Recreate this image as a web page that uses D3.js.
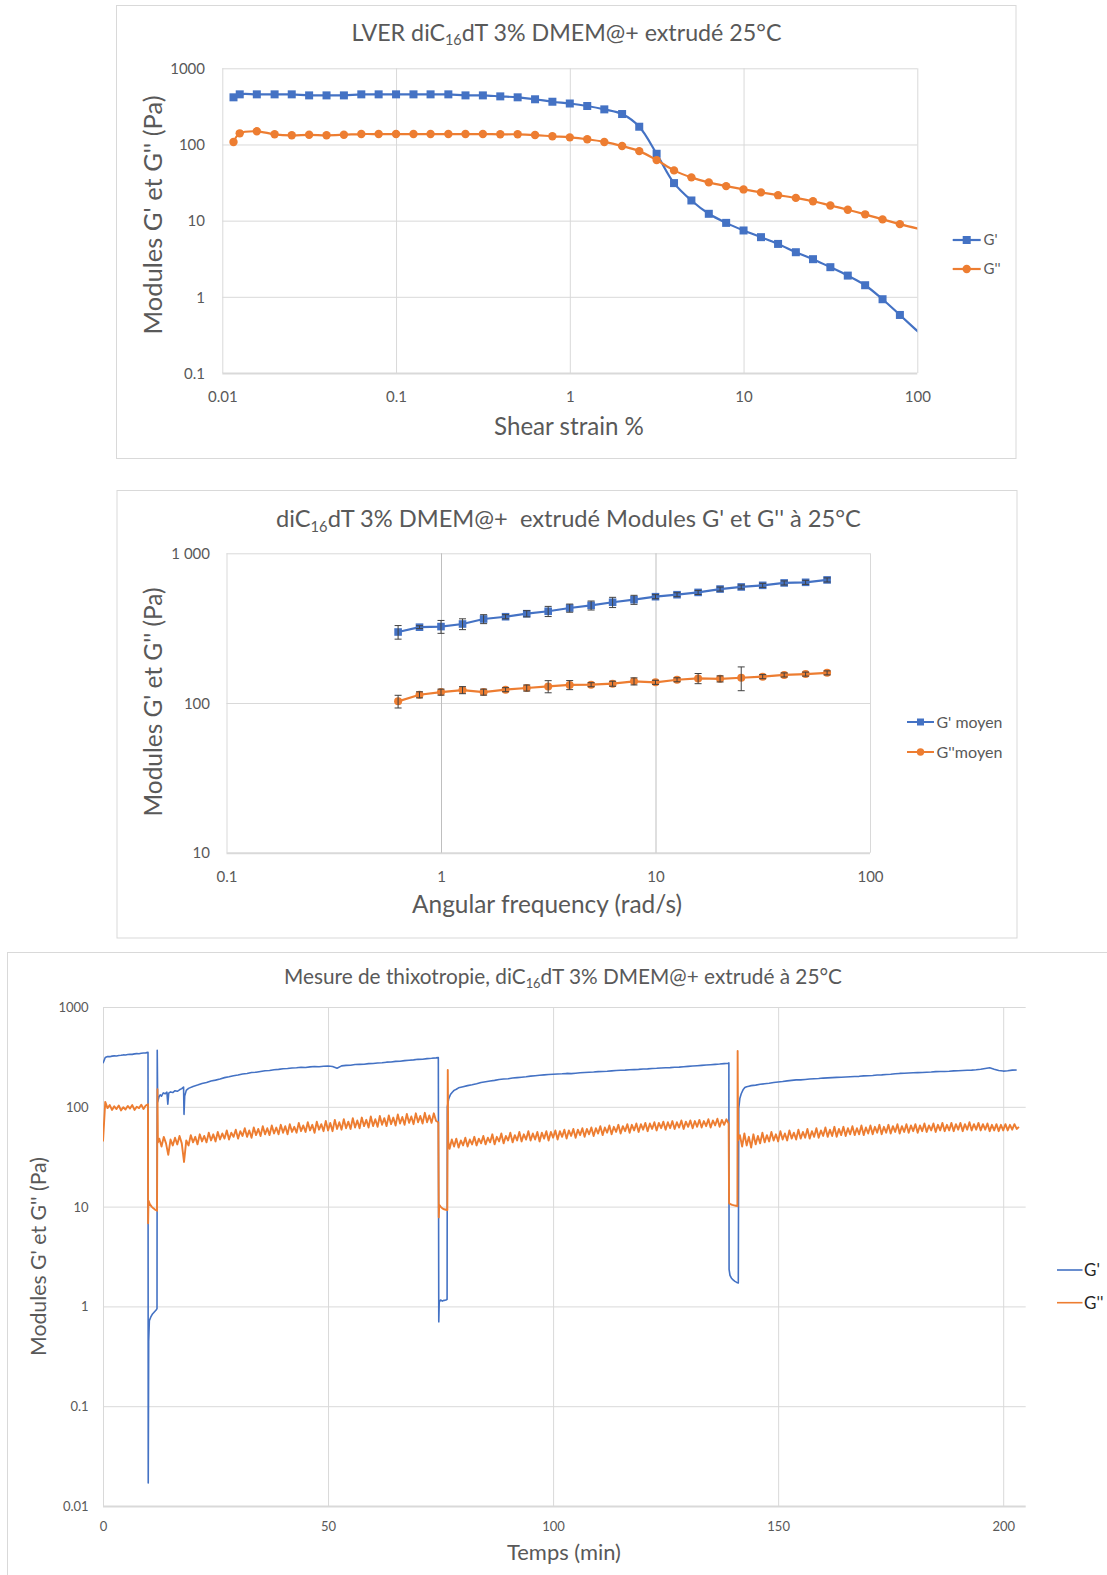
<!DOCTYPE html>
<html><head><meta charset="utf-8">
<script src="https://cdn.jsdelivr.net/npm/d3@7"></script>
<style>
body{margin:0;background:#fff;}
svg{display:block;}
</style></head><body>
<svg id="c" width="1107" height="1575"></svg>
<script>
// ================= DATA =================
// Panel 1 : LVER amplitude sweep
const lverStrain = [0.0116,0.0126,0.0158,0.02,0.0251,0.0316,0.0398,0.0501,0.0631,0.0794,
  0.1,0.126,0.158,0.2,0.251,0.316,0.398,0.501,0.631,0.794,
  1,1.26,1.58,2,2.51,3.16,3.98,5.01,6.31,7.94,
  10,12.6,15.8,20,25.1,31.6,39.8,50.1,63.1,79.4,126];
const lverGp = [416,455,455,455,455,441,441,441,455,455,
  455,455,455,455,441,441,428,416,392,364,
  345,320,289,251,171,75.5,31.1,18.4,12.3,9.35,
  7.43,6.07,4.95,3.85,3.12,2.45,1.9,1.42,0.93,0.578,0.219];
const lverGpp = [108,140,149,136,132,134,132,134,137,137,
  137,137,137,137,137,137,136,136,133,128,
  124,117,108,95.3,81.8,62.4,45.7,37,31.8,28.4,
  25.7,23.5,21.6,19.9,18.0,15.8,13.9,12.1,10.4,9.0,6.93];
const lverXTicks = [0.01,0.1,1,10,100];
const lverXLabels = ['0.01','0.1','1','10','100'];
const lverYTicks = [0.1,1,10,100,1000];
const lverYLabels = ['0.1','1','10','100','1000'];

// Panel 2 : frequency sweep (mean ± sd)
const freq = [0.631,0.794,1,1.26,1.58,2,2.51,3.16,3.98,5.01,6.31,7.94,10,12.6,15.8,20,25.1,31.6,39.8,50.1,63.1];
const gpMoy = [298,321,324,337,364,377,395,410,431,449,471,490,513,529,548,577,596,611,634,640,664];
const gpErr = [31,7,32,28,25,12,19,32,27,31,37,34,16,16,17,18,18,19,20,20,21];
const gppMoy = [102.6,113.5,118.3,122,118.3,122.8,126,129,132,132.5,134.6,139.6,137.5,143,146,145,147.5,150,154,156,159];
const gppErr = [10,5.3,5.5,6.6,5.5,3.8,5.9,12,9.2,4.1,5.2,7.6,4.3,4.4,11.4,6.8,26.7,4.7,4.8,4.8,4.9];
const freqXTicks = [0.1,1,10,100];
const freqXLabels = ['0.1','1','10','100'];
const freqYTicks = [10,100,1000];
const freqYLabels = ['10','100','1 000'];

// Panel 3 : thixotropy (time in min, moduli in Pa)
const gpRest1Start = 0, gpRest1Step = 0.5;
const gpRest1 = [273,312,319,318,322,324,323,327,328,331,330,334,336,335,339,341,340,344,346,347,351];
const gpShear1 = [[10.05,0.017],[10.15,0.45],[10.3,0.72],[10.6,0.78],[11.0,0.84],[11.4,0.88],[11.8,0.92],[12.0,0.95],
  [12.05,368],[12.15,112],[12.4,124],[12.7,132],[13.0,128],[13.4,138],[13.8,135],[14.2,140],[14.4,106],[14.6,137],
  [15.0,141],[15.5,139],[16.0,145],[16.5,143],[17.0,148],[17.5,152],[17.9,158],[18.0,84],[18.15,128],[18.5,146],[18.8,150]];
const gpRest2Start = 19, gpRest2Step = 1;
const gpRest2 = [153,160,165,171,175,181,185,190,196,200, 205,208,213,216,221,222,226,230,231,235,
  237,241,242,245,246,249,248,251,253,252, 255,256,253,243,257,260,261,265,266,267,
  271,272,275,276,280,281,285,286,290,293, 295,299,300,304,306,309];
const gpShear2 = [[74.5,311],[74.6,0.70],[74.7,1.1],[75.0,1.16],[75.4,1.13],[75.8,1.15],[76.2,1.16],[76.45,1.18],
  [76.5,100],[76.8,120],[77.2,133],[77.6,140],[78,146],[78.5,150],[79,155],[79.5,157],[80,159]];
const gpRest3Start = 81, gpRest3Step = 1;
const gpRest3 = [163,166,170,175,178,181,184,188,190,191, 194,196,198,200,203,205,207,209,211,212,
  213,214,216,215,217,219,221,222,223,225, 226,227,229,231,232,233,235,236,237,239,
  240,242,243,245,246,247,249,250,252,254, 256,258,260,262,264,266,268,271];
const gpShear3 = [[138.9,273],[139.05,275],[139.1,2.35],[139.3,2.05],[139.6,1.93],[140.0,1.84],[140.4,1.78],[140.8,1.74],
  [141.15,1.72],[141.25,97],[141.5,122],[141.8,135],[142.2,148],[142.6,156],[143,159],[143.5,161],[144,163]];
const gpRest4Start = 145, gpRest4Step = 1;
const gpRest4 = [165,168,170,172,175,177,179,182,184,186, 186,188,190,191,192,194,195,196,197,198,
  199,200,201,202,204,205,206,208,209,211, 212,214,216,217,218,219,220,221,222,223,
  225,226,226,227,229,230,231,232,233,235, 238,242,246,238,231,228,230,233,234];

const gppRest1Start = 0, gppRest1Step = 0.5;
const gppRest1 = [45,112,97,104,93,101,95,103,92,99,94,102,96,104,93,100,97,105,95,103,106];
const gppShear1 = [[10.02,6.8],[10.1,11.5],[10.4,10.6],[10.8,10.0],[11.2,9.6],[11.6,9.3],[12.0,9.1],[12.1,150],[12.2,44]];
const gppRest2Start = 12.5, gppRest2Step = 0.5;
const gppRest2 = [48,40,50,43,33,47,41,49,42,51, 43,28,46,41,52,44,50,42,53,45,
  51,44,55,46,53,45,56,47,54,48, 58,47,55,50,59,48,57,51,61,50,
  58,49,62,52,60,51,64,53,61,52, 65,54,62,53,66,55,64,53,67,56,
  63,55,69,57,65,56,70,58,66,55, 71,59,67,57,72,58,69,57,74,60,
  70,59,75,61,71,60,77,62,73,61, 78,64,74,62,80,64,75,63,81,66,
  77,64,82,67,78,65,84,68,79,66, 85,69,80,67,86,70,81,68,87,70,
  82,69,86,72,70];
const gppShear2 = [[74.6,7.8],[74.7,10.4],[75.0,10.0],[75.4,9.6],[75.8,9.4],[76.2,9.3],[76.5,9.2],[76.6,234],[76.7,45]];
const gppRest3Start = 77, gppRest3Step = 0.5;
const gppRest3 = [38,47,40,48,39,46,41,49,40,47, 42,50,41,48,43,51,42,49,44,53,
  42,50,45,54,43,51,46,55,44,52, 46,56,45,53,47,57,46,54,47,56,
  45,55,48,57,46,56,49,58,47,57, 50,59,48,58,51,60,49,59,52,61,
  50,60,53,62,51,61,54,64,52,62, 55,65,53,63,56,66,54,64,57,67,
  55,66,58,68,56,67,59,69,57,68, 60,70,58,69,61,71,59,70,61,72,
  60,70,62,73,60,71,63,73,61,72, 63,74,62,72,64,75,62,73,65,76,
  63,74,66,75,68];
const gppShear3 = [[139.1,10.8],[139.4,10.6],[139.8,10.4],[140.2,10.3],[140.6,10.2],[140.95,10.1],[141.0,362],[141.1,46]];
const gppRest4Start = 141.5, gppRest4Step = 0.5;
const gppRest4 = [52,40,54,41,50,39,53,42,51,43, 55,44,52,45,56,46,53,45,57,47,
  54,46,58,48,55,47,59,48,56,49, 60,48,57,50,61,49,58,51,62,50,
  59,51,63,50,60,52,63,51,61,53, 64,52,61,53,65,52,62,54,65,53,
  63,55,66,53,63,55,66,54,64,56, 67,54,64,56,67,55,65,57,67,55,
  65,57,68,56,65,58,68,56,66,58, 69,57,66,58,69,57,67,59,69,57,
  67,59,70,58,67,59,69,58,67,59, 68,57,66,58,67,57,66,58,67,58,
  66,59,67,60,63];
const thixoXTicks = [0,50,100,150,200];
const thixoXLabels = ['0','50','100','150','200'];
const thixoYTicks = [0.01,0.1,1,10,100,1000];
const thixoYLabels = ['0.01','0.1','1','10','100','1000'];

// ================= DRAWING =================
const FONT = "Lato, 'Open Sans', 'DejaVu Sans', sans-serif";
const GRID = '#d9d9d9', TXT = '#595959', BLUE = '#4472c4', ORANGE = '#ed7d31';
const svg = d3.select('#c').attr('font-family', FONT);

function frame(x, y, w, h) {
  svg.append('rect').attr('x', x).attr('y', y).attr('width', w).attr('height', h)
    .attr('fill', 'none').attr('stroke', GRID).attr('stroke-width', 1);
}
function fit(t, w) {
  const len = t.node().getComputedTextLength();
  const fs = parseFloat(t.attr('font-size'));
  t.attr('font-size', fs * w / len);
}
function rich(x, y, segs, size, w, rot, fill) {
  const t = svg.append('text').attr('text-anchor', 'middle').attr('font-size', size)
    .attr('fill', fill || TXT).style('white-space', 'pre');
  if (rot) t.attr('transform', `translate(${x},${y}) rotate(-90)`);
  else t.attr('x', x).attr('y', y);
  segs.forEach(s => {
    if (s[1]) {
      t.append('tspan').attr('font-size', '0.62em').attr('dy', '0.3em').text(s[0]);
    } else {
      const ts = t.append('tspan').text(s[0]);
      if (t.selectAll('tspan').size() > 1) ts.attr('dy', '-0.186em');
    }
  });
  if (w) fit(t, w);
  return t;
}
function grid(x, y, p, xt, xl, yt, yl, o) {
  const gy = svg.append('g').attr('transform', `translate(${p.l},0)`)
    .call(d3.axisLeft(y).tickValues(yt).tickFormat((d, i) => yl[i]).tickSize(-(p.r - p.l)).tickPadding(o.yPad));
  gy.select('.domain').remove();
  gy.selectAll('line').attr('stroke', GRID).attr('stroke-width', d => d === yt[0] ? 2 : 1);
  gy.selectAll('text').attr('fill', TXT).attr('font-size', o.fs).attr('font-family', FONT).attr('dy', '0.35em');
  const gx = svg.append('g').attr('transform', `translate(0,${p.b})`)
    .call(d3.axisBottom(x).tickValues(xt).tickFormat((d, i) => xl[i]).tickSize(-(p.b - p.t)).tickPadding(0));
  gx.select('.domain').remove();
  gx.selectAll('line').attr('stroke', d => o.vColor ? o.vColor(d) : GRID).attr('stroke-width', 1);
  gx.selectAll('text').attr('fill', TXT).attr('font-size', o.fs).attr('font-family', FONT).attr('y', o.xDy).attr('dy', '0.35em');
}
function clip(id, p) {
  svg.append('clipPath').attr('id', id).append('rect')
    .attr('x', p.l).attr('y', p.t).attr('width', p.r - p.l).attr('height', p.b - p.t);
}

// ---------- Panel 1 ----------
frame(116.5, 5.5, 899.5, 453);
const p1 = {l: 222.3, r: 917.3, t: 68.3, b: 373};
const x1 = d3.scaleLog().domain([0.01, 100]).range([p1.l, p1.r]);
const y1 = d3.scaleLog().domain([0.1, 1000]).range([p1.b, p1.t]);
grid(x1, y1, p1, lverXTicks, lverXLabels, lverYTicks, lverYLabels, {yPad: 17.3, xDy: 24, fs: 15});
clip('cp1', p1);
const l1 = d3.line().x(d => x1(d[0])).y(d => y1(d[1])).curve(d3.curveCatmullRom.alpha(0.5));
const gp1 = lverStrain.map((s, i) => [s, lverGp[i]]);
const gpp1 = lverStrain.map((s, i) => [s, lverGpp[i]]);
const c1 = svg.append('g').attr('clip-path', 'url(#cp1)');
c1.append('path').datum(gp1).attr('d', l1).attr('fill', 'none').attr('stroke', BLUE).attr('stroke-width', 2.2);
c1.selectAll('rect.m').data(gp1).enter().append('rect')
  .attr('x', d => x1(d[0]) - 4).attr('y', d => y1(d[1]) - 4).attr('width', 8).attr('height', 8).attr('fill', BLUE);
c1.append('path').datum(gpp1).attr('d', l1).attr('fill', 'none').attr('stroke', ORANGE).attr('stroke-width', 2.2);
c1.selectAll('circle.m').data(gpp1).enter().append('circle')
  .attr('cx', d => x1(d[0])).attr('cy', d => y1(d[1])).attr('r', 4.2).attr('fill', ORANGE);
rich(566.5, 40.7, [['LVER diC'], ['16', 1], ['dT 3% DMEM@+ extrudé 25°C']], 22, 430);
rich(569, 435, [['Shear strain %']], 22, 150);
rich(161.7, 215, [["Modules G' et G'' (Pa)"]], 22, 239, true);
// legend 1
[[240, BLUE, 'sq', "G'"], [269, ORANGE, 'ci', "G''"]].forEach(r => {
  svg.append('line').attr('x1', 952.7).attr('x2', 980.7).attr('y1', r[0]).attr('y2', r[0]).attr('stroke', r[1]).attr('stroke-width', 2.2);
  if (r[2] === 'sq') svg.append('rect').attr('x', 962.7).attr('y', r[0] - 4).attr('width', 8).attr('height', 8).attr('fill', r[1]);
  else svg.append('circle').attr('cx', 966.7).attr('cy', r[0]).attr('r', 4.2).attr('fill', r[1]);
  svg.append('text').attr('x', 983.5).attr('y', r[0]).attr('dy', '0.35em').attr('font-size', 15).attr('fill', TXT).text(r[3]);
});

// ---------- Panel 2 ----------
frame(117, 490.5, 900, 447.5);
const p2 = {l: 226.5, r: 870, t: 553.3, b: 852.7};
const x2 = d3.scaleLog().domain([0.1, 100]).range([p2.l, p2.r]);
const y2 = d3.scaleLog().domain([10, 1000]).range([p2.b, p2.t]);
grid(x2, y2, p2, freqXTicks, freqXLabels, freqYTicks, freqYLabels,
  {yPad: 16.5, xDy: 24, fs: 15, vColor: d => (d === 1 || d === 10) ? '#bfbfbf' : GRID});
const l2 = d3.line().x(d => x2(d[0])).y(d => y2(d[1]));
const gp2 = freq.map((f, i) => [f, gpMoy[i], gpErr[i]]);
const gpp2 = freq.map((f, i) => [f, gppMoy[i], gppErr[i]]);
function errBars(data) {
  const g = svg.append('g').attr('stroke', '#404040').attr('stroke-width', 1);
  data.forEach(d => {
    const xx = x2(d[0]), ya = y2(d[1] + d[2]), yb = y2(d[1] - d[2]);
    g.append('line').attr('x1', xx).attr('x2', xx).attr('y1', ya).attr('y2', yb);
    g.append('line').attr('x1', xx - 3.5).attr('x2', xx + 3.5).attr('y1', ya).attr('y2', ya);
    g.append('line').attr('x1', xx - 3.5).attr('x2', xx + 3.5).attr('y1', yb).attr('y2', yb);
  });
}
svg.append('path').datum(gp2).attr('d', l2).attr('fill', 'none').attr('stroke', BLUE).attr('stroke-width', 2.2);
svg.selectAll('rect.m2').data(gp2).enter().append('rect')
  .attr('x', d => x2(d[0]) - 3.8).attr('y', d => y2(d[1]) - 3.8).attr('width', 7.6).attr('height', 7.6).attr('fill', BLUE);
errBars(gp2);
svg.append('path').datum(gpp2).attr('d', l2).attr('fill', 'none').attr('stroke', ORANGE).attr('stroke-width', 2.2);
svg.selectAll('circle.m2').data(gpp2).enter().append('circle')
  .attr('cx', d => x2(d[0])).attr('cy', d => y2(d[1])).attr('r', 4).attr('fill', ORANGE);
errBars(gpp2);
rich(568.5, 527.3, [['diC'], ['16', 1], ["dT 3% DMEM@+  extrudé Modules G' et G'' à 25°C"]], 22, 585);
rich(547, 913, [['Angular frequency (rad/s)']], 22, 270);
rich(161.5, 702, [["Modules G' et G'' (Pa)"]], 22, 229, true);
[[722, BLUE, 'sq', "G' moyen"], [752, ORANGE, 'ci', "G''moyen"]].forEach(r => {
  svg.append('line').attr('x1', 907).attr('x2', 934).attr('y1', r[0]).attr('y2', r[0]).attr('stroke', r[1]).attr('stroke-width', 2);
  if (r[2] === 'sq') svg.append('rect').attr('x', 917).attr('y', r[0] - 3.5).attr('width', 7).attr('height', 7).attr('fill', r[1]);
  else svg.append('circle').attr('cx', 920.5).attr('cy', r[0]).attr('r', 3.7).attr('fill', r[1]);
  const t = svg.append('text').attr('x', 936.5).attr('y', r[0]).attr('dy', '0.35em').attr('font-size', 15).attr('fill', TXT).text(r[3]);
  fit(t, 66);
});

// ---------- Panel 3 ----------
frame(7.5, 952.5, 1110, 700);
const p3 = {l: 103, r: 1025.7, t: 1007, b: 1506};
const x3 = d3.scaleLinear().domain([0, 205]).range([p3.l, p3.r]);
const y3 = d3.scaleLog().domain([0.01, 1000]).range([p3.b, p3.t]);
grid(x3, y3, p3, thixoXTicks, thixoXLabels, thixoYTicks, thixoYLabels, {yPad: 14.4, xDy: 20.7, fs: 13});
function seq(start, step, vals) { return vals.map((v, i) => [start + i * step, v]); }
const gpSeries = [].concat(seq(gpRest1Start, gpRest1Step, gpRest1), gpShear1,
  seq(gpRest2Start, gpRest2Step, gpRest2), gpShear2,
  seq(gpRest3Start, gpRest3Step, gpRest3), gpShear3,
  seq(gpRest4Start, gpRest4Step, gpRest4));
const gppSeries = [].concat(seq(gppRest1Start, gppRest1Step, gppRest1), gppShear1,
  seq(gppRest2Start, gppRest2Step, gppRest2), gppShear2,
  seq(gppRest3Start, gppRest3Step, gppRest3), gppShear3,
  seq(gppRest4Start, gppRest4Step, gppRest4));
clip('cp3', p3);
const l3 = d3.line().x(d => x3(d[0])).y(d => y3(d[1]));
const c3 = svg.append('g').attr('clip-path', 'url(#cp3)');
c3.append('path').datum(gpSeries).attr('d', l3).attr('fill', 'none').attr('stroke', BLUE).attr('stroke-width', 1.6).attr('stroke-linejoin', 'round');
c3.append('path').datum(gppSeries).attr('d', l3).attr('fill', 'none').attr('stroke', ORANGE).attr('stroke-width', 1.9).attr('stroke-linejoin', 'round');
rich(563, 984.3, [['Mesure de thixotropie, diC'], ['16', 1], ['dT 3% DMEM@+ extrudé à 25°C']], 20, 558);
rich(564, 1560, [['Temps (min)']], 20, 114);
rich(46.4, 1256.5, [["Modules G' et G'' (Pa)"]], 20, 199, true);
[[1270, BLUE, "G'"], [1302.7, ORANGE, "G''"]].forEach(r => {
  svg.append('line').attr('x1', 1057).attr('x2', 1082.5).attr('y1', r[0]).attr('y2', r[0]).attr('stroke', r[1]).attr('stroke-width', 1.6);
  svg.append('text').attr('x', 1084).attr('y', r[0]).attr('dy', '0.35em').attr('font-size', 17).attr('fill', '#262626').text(r[2]);
});
</script>
</body></html>
